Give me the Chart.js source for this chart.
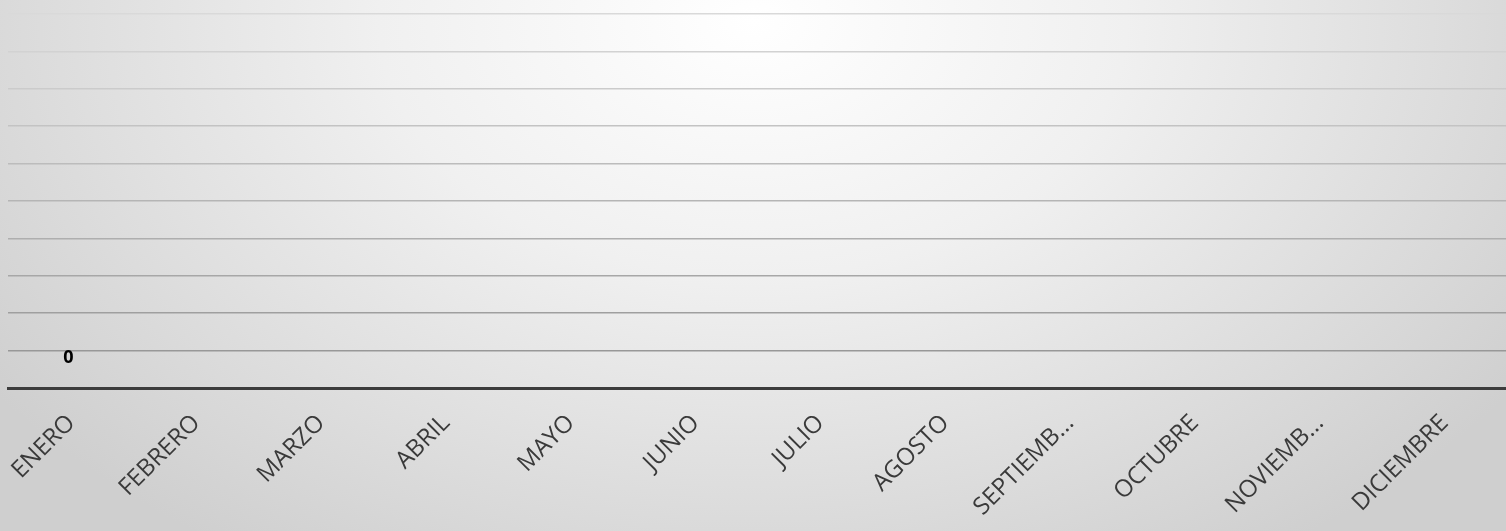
<!DOCTYPE html>
<html>
<head>
<meta charset="utf-8">
<script src="https://cdn.jsdelivr.net/npm/chart.js@4"></script>
<style>
  html, body { margin: 0; padding: 0; }
  body {
    width: 1506px; height: 531px; overflow: hidden;
    background: radial-gradient(ellipse 62% 120% at 50% 4%, #ffffff 0%, #f0f0f0 40%, #dadada 80%, #cfcfcf 100%);
  }
  #wrap { position: relative; width: 1506px; height: 531px; }
</style>
</head>
<body>
<div id="wrap"><canvas id="chart"></canvas></div>
<script>
// categories (as shown on the axis)
const months = ['ENERO', 'FEBRERO', 'MARZO', 'ABRIL', 'MAYO', 'JUNIO', 'JULIO',
    'AGOSTO', 'SEPTIEMB...', 'OCTUBRE', 'NOVIEMB...', 'DICIEMBRE'];
// only January carries a value (0); the rest are empty
const values = [0, null, null, null, null, null, null, null, null, null, null, null];
const yMin = 0;
const yMax = 10;

// simple data label drawing, since no datalabels plugin is loaded
const valueLabels = {
    id: 'valueLabels',
    afterDatasetsDraw(chart) {
        const ctx = chart.ctx;
        const meta = chart.getDatasetMeta(0);
        ctx.save();
        ctx.font = 'bold 18px "Open Sans", sans-serif';
        ctx.fillStyle = '#000';
        ctx.textAlign = 'center';
        ctx.textBaseline = 'middle';
        meta.data.forEach((el, i) => {
            const v = chart.data.datasets[0].data[i];
            if (v === null || v === undefined) return;
            ctx.fillText(String(v), el.x - 2, el.y - 30);
        });
        ctx.restore();
    }
};

function gridColor(ctx) {
    // lines get darker toward the bottom
    const t = (ctx.tick ? ctx.tick.value : 0) / yMax;
    const c = Math.round(145 + t * 72);
    return `rgb(${c},${c},${c})`;
}

new Chart(document.getElementById('chart'), {
    type: 'bar',
    data: {
        labels: months,
        datasets: [{
            data: values,
            backgroundColor: '#5b9bd5'
        }]
    },
    plugins: [valueLabels],
    options: {
        responsive: true,
        maintainAspectRatio: false,
        animation: false,
        layout: { padding: { top: 14, left: 0, right: 0, bottom: 0 } },
        plugins: {
            legend: { display: false },
            tooltip: { enabled: false }
        },
        scales: {
            x: {
                grid: { display: false, drawTicks: false },
                border: { display: true, color: '#3c3c3c', width: 3 },
                ticks: {
                    color: '#3a3a3a',
                    font: { family: '"Open Sans", sans-serif', size: 24 },
                    maxRotation: 45,
                    minRotation: 45,
                    autoSkip: false,
                    padding: 21,
                    labelOffset: 1
                },
                afterFit(scale) {
                    scale.height = 531 - 388;
                    scale.paddingLeft = 0;
                    scale.paddingRight = 0;
                }
            },
            y: {
                min: yMin,
                max: yMax,
                ticks: { display: false, stepSize: 1 },
                grid: { color: gridColor, lineWidth: 1.5, drawTicks: false },
                border: { display: false },
                afterFit(scale) { scale.width = 8; }
            }
        }
    }
});
</script>
</body>
</html>
